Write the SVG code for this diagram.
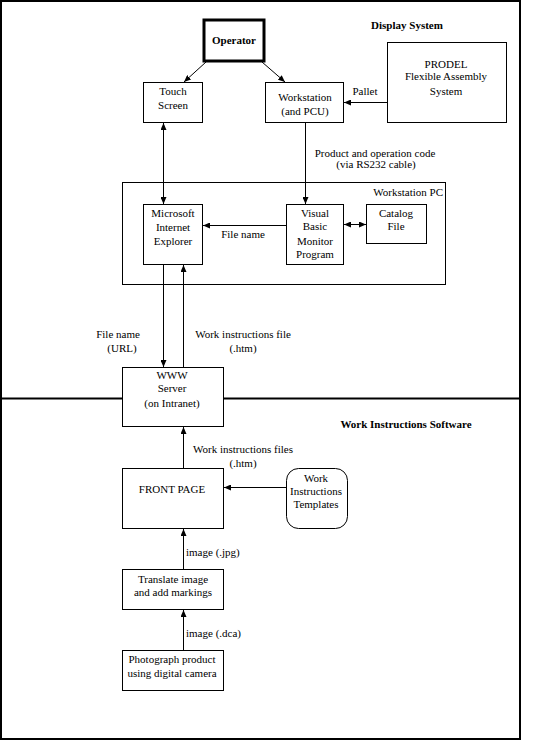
<svg xmlns="http://www.w3.org/2000/svg" width="541" height="748" viewBox="0 0 541 748">
<defs>
<marker id="ah" markerWidth="7" markerHeight="6" refX="7" refY="3" orient="auto-start-reverse" markerUnits="userSpaceOnUse">
<path d="M0,0 L7,3 L0,6 z" fill="#000"/>
</marker>
<style>
text{font-family:'Liberation Serif','DejaVu Serif',serif;font-size:11px;fill:#000;text-anchor:middle}
.b{font-weight:bold}
.box{fill:#fff;stroke:#000;stroke-width:1}
.c line{stroke:#000;stroke-width:1;marker-end:url(#ah)}
.c line.dbl{marker-start:url(#ah)}
</style>
</defs>
<g font-family="Liberation Serif, DejaVu Serif, serif">
<rect x="0" y="0" width="541" height="748" fill="#fff"/>
<rect x="1" y="1" width="519" height="738" fill="none" stroke="#000" stroke-width="2"/>
<line x1="0" y1="398.5" x2="520" y2="398.5" stroke="#000" stroke-width="2"/>
<text class="b" x="407" y="29">Display System</text>
<text class="b" x="406" y="428">Work Instructions Software</text>

<g id="workstation-pc">
<rect class="box" x="122.5" y="182.5" width="323" height="102"/>
<text x="443" y="196" style="text-anchor:end">Workstation PC</text>
</g>
<g id="operator">
<rect x="204" y="20" width="60" height="41" fill="#fff" stroke="#000" stroke-width="3"/>
<text class="b" x="234" y="44">Operator</text>
</g>
<g id="touch-screen">
<rect class="box" x="143.5" y="82.5" width="59" height="40"/>
<text x="173" y="95">Touch</text>
<text x="173" y="109">Screen</text>
</g>
<g id="workstation">
<rect class="box" x="265.5" y="82.5" width="78" height="40"/>
<text x="305" y="101">Workstation</text>
<text x="305" y="115">(and PCU)</text>
</g>
<g id="prodel">
<rect class="box" x="387.5" y="42.5" width="119" height="80"/>
<text x="446" y="68">PRODEL</text>
<text x="446" y="80">Flexible Assembly</text>
<text x="446" y="95">System</text>
</g>
<g id="ie">
<rect class="box" x="143.5" y="204.5" width="59" height="60"/>
<text x="173" y="217">Microsoft</text>
<text x="173" y="231">Internet</text>
<text x="173" y="245">Explorer</text>
</g>
<g id="vb">
<rect class="box" x="286.5" y="204.5" width="57" height="60"/>
<text x="315" y="217">Visual</text>
<text x="315" y="230">Basic</text>
<text x="315" y="245">Monitor</text>
<text x="315" y="258">Program</text>
</g>
<g id="catalog">
<rect class="box" x="366.5" y="204.5" width="60" height="39"/>
<text x="396" y="217">Catalog</text>
<text x="396" y="230">File</text>
</g>
<g id="www">
<rect class="box" x="122.5" y="367.5" width="101" height="59"/>
<text x="172" y="379">WWW</text>
<text x="172" y="392">Server</text>
<text x="172" y="407">(on Intranet)</text>
</g>
<g id="frontpage">
<rect class="box" x="122.5" y="468.5" width="101" height="60"/>
<text x="172" y="493">FRONT PAGE</text>
</g>
<g id="templates">
<rect class="box" x="286.5" y="468.5" width="61" height="60" rx="12" ry="12"/>
<text x="316" y="482">Work</text>
<text x="316" y="495">Instructions</text>
<text x="316" y="508">Templates</text>
</g>
<g id="translate">
<rect class="box" x="122.5" y="569.5" width="101" height="40"/>
<text x="173" y="583">Translate image</text>
<text x="173" y="596">and add markings</text>
</g>
<g id="photograph">
<rect class="box" x="122.5" y="650.5" width="101" height="40"/>
<text x="172" y="663">Photograph product</text>
<text x="172" y="677">using digital camera</text>
</g>

<g id="connectors" class="c">
<line x1="206" y1="62" x2="184" y2="82"/>
<line x1="262" y1="62" x2="285" y2="82"/>
<line class="dbl" x1="163.5" y1="123" x2="163.5" y2="204"/>
<line x1="305.5" y1="123" x2="305.5" y2="204"/>
<line x1="387" y1="102.5" x2="344" y2="102.5"/>
<line x1="286" y1="225.5" x2="203" y2="225.5"/>
<line class="dbl" x1="344" y1="224.5" x2="366" y2="224.5"/>
<line x1="163.5" y1="265" x2="163.5" y2="367"/>
<line x1="183.5" y1="367" x2="183.5" y2="265"/>
<line x1="183.5" y1="468" x2="183.5" y2="427"/>
<line x1="286" y1="487.5" x2="224" y2="487.5"/>
<line x1="183.5" y1="569" x2="183.5" y2="529"/>
<line x1="183.5" y1="650" x2="183.5" y2="610"/>
</g>
<g id="labels">
<text x="365" y="95">Pallet</text>
<text x="375" y="157">Product and operation code</text>
<text x="376" y="168">(via RS232 cable)</text>
<text x="243" y="238">File name</text>
<text x="118" y="338">File name</text>
<text x="122" y="352">(URL)</text>
<text x="243" y="338">Work instructions file</text>
<text x="243" y="352">(.htm)</text>
<text x="243" y="453">Work instructions files</text>
<text x="243" y="467">(.htm)</text>
<text x="186" y="556" style="text-anchor:start">image (.jpg)</text>
<text x="186" y="637" style="text-anchor:start">image (.dca)</text>
</g>
</g>
</svg>
